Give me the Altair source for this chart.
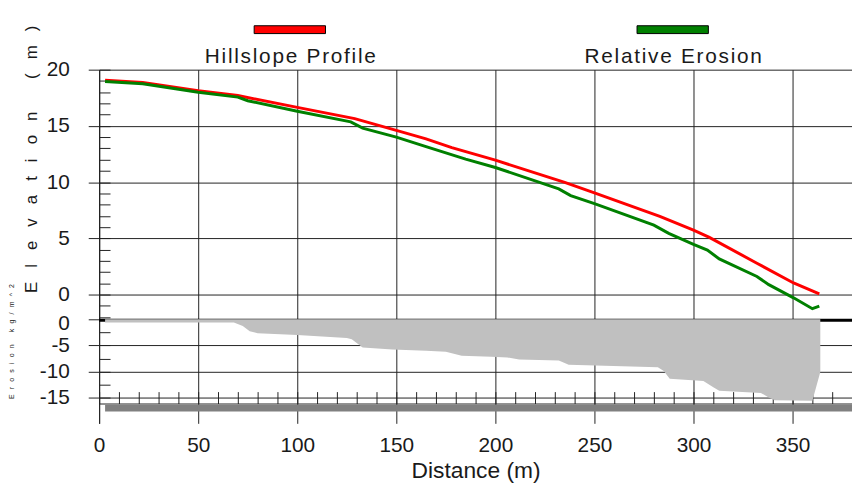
import altair as alt
import pandas as pd

# ---------------- data ----------------
series_names = ["Hillslope Profile", "Relative Erosion"]
series_colors = ["#ff0000", "#008000"]

# Hillslope profile (red line), distance (m) / elevation (m)
prof_x = [3, 22, 50, 70, 100, 129, 150, 165, 178, 200, 235, 250, 283, 300, 308, 332, 350.5, 363.5]
prof_elev = [19.06, 18.85, 18.12, 17.7, 16.65, 15.65, 14.6, 13.85, 13.07, 11.95, 9.98, 9.05, 6.96, 5.73,
             5.08, 2.79, 1.03, 0.06]

# Relative erosion profile (green line)
eros_x = [3, 22, 50, 70, 75, 100, 127, 133, 150, 165, 185, 200, 232, 238, 250, 280, 287.5, 300, 307,
          313, 332, 338, 350.5, 360, 363.5]
eros_elev = [18.95, 18.74, 18.0, 17.56, 17.24, 16.3, 15.36, 14.8, 14.0, 13.15, 12.04, 11.3, 9.4, 8.8,
             8.08, 6.17, 5.44, 4.47, 3.96, 3.17, 1.61, 0.88, -0.29, -1.26, -1.03]

# Soil loss along the slope (kg/m^2)
loss_x = [3, 68, 72.5, 76, 80, 100, 125, 127.5, 133, 148, 165, 175, 183, 198, 206, 212, 232, 237, 282,
          285, 288, 305, 310, 313, 334, 338, 341, 360, 364]
loss_val = [-0.63, -0.63, -1.3, -2.3, -2.66, -3.0, -3.6, -3.8, -5.4, -5.8, -6.0, -6.2, -7.0, -7.15,
            -7.3, -7.7, -7.9, -8.7, -9.2, -9.9, -11.4, -11.8, -13.0, -13.7, -14.1, -15.0, -15.5, -15.6,
            -10.1]

# strip under the erosion panel
strip_x = [3, 380]
strip_y = [-16.35, -17.65]

zero_line = [0]

# tick values
x_ticks = [0, 50, 100, 150, 200, 250, 300, 350]
x_minor = list(range(0, 380, 10))
elev_ticks = [0, 5, 10, 15, 20]
elev_minor = list(range(-2, 21))
loss_ticks = [0, -5, -10, -15]
loss_minor = [0, -2.5, -5, -7.5, -10, -12.5, -15]

# ---------------- styling ----------------
FONT = "'Liberation Sans Narrow', 'Arial Narrow', 'Liberation Sans', sans-serif"
TXT = "#1a1a1a"
LINE = "#222222"
HAIR = "\u200a"
WIDE = "\u2002\u2004"   # en + three-per-em space
MID = "\u2002\u2005"    # en + four-per-em space
plain_value = "toString(datum.value)"
spaced_label = "join(split(datum.label, ''), '" + HAIR + "')"

x_scale = alt.Scale(domain=[0, 380], nice=False, zero=False)
top_scale = alt.Scale(domain=[-2.2, 20], range=[252, 0], nice=False, zero=False)
# erosion panel: 0 at 252 px, 5.267 px per unit, range covering the whole plot height
bot_scale = alt.Scale(domain=[-19.93, 47.85], range=[357, 0], nice=False, zero=False)

main_x_axis = alt.Axis(
    orient="bottom", values=x_ticks, grid=True, gridColor=LINE, gridWidth=1,
    ticks=False, tickSize=0, domain=False, labelExpr=plain_value, labelFont=FONT,
    labelFontSize=21, labelColor=TXT, labelPadding=11.5, labelFlush=False, labelOverlap=False,
    title="Distance (m)", titleFont=FONT, titleFontSize=23, titleFontWeight="normal",
    titleColor=TXT, titleBaseline="alphabetic", titleY=55, zindex=0,
)
tick_x_axis = alt.Axis(
    orient="top", offset=-337, values=x_minor, tickSize=12, tickColor=LINE, tickWidth=1,
    domain=True, domainColor=LINE, domainWidth=1, labels=False, grid=False, title=None, zindex=0,
)
top_major = alt.Axis(
    orient="left", values=elev_ticks, grid=True, gridColor=LINE, gridWidth=1,
    tickSize=11, tickColor=LINE, domain=True, domainColor=LINE, labelExpr=plain_value,
    labelFont=FONT, labelFontSize=21, labelColor=TXT, labelPadding=19, labelOverlap=False,
    labelFlush=False, title=WIDE.join("Elevation (m)"), titleFont=FONT, titleFontSize=17,
    titleFontWeight="normal", titleColor=TXT, titleAngle=270, titleAlign="left",
    titleBaseline="alphabetic", titleX=-63, titleY=225, zindex=0,
)
top_minor = alt.Axis(
    orient="left", offset=-11, values=elev_minor, tickSize=11, tickColor=LINE,
    domain=False, labels=False, grid=False, title=None, zindex=0,
)
bot_major = alt.Axis(
    orient="left", values=loss_ticks, grid=True, gridColor=LINE, gridWidth=1,
    tickSize=11, tickColor=LINE, domain=True, domainColor=LINE, labelExpr=plain_value,
    labelFont=FONT, labelFontSize=21, labelColor=TXT, labelPadding=19, labelOverlap=False,
    labelFlush=False,
    labelOffset={"condition": {"test": "datum.value === 0", "value": 4}, "value": 0},
    title=MID.join("Erosion kg/m^2"), titleFont=FONT, titleFontSize=7, titleFontWeight="normal",
    titleColor=TXT, titleAngle=270, titleAlign="left", titleBaseline="alphabetic",
    titleX=-86, titleY=332, zindex=0,
)
bot_minor = alt.Axis(
    orient="left", offset=-11, values=loss_minor, tickSize=11, tickColor=LINE,
    domain=False, labels=False, grid=False, title=None, zindex=0,
)


def legend_for(lx):
    # the swatch is drawn to the right half of the symbol box so that the
    # label (which starts at the box's right edge) is centred below it
    return alt.Legend(
        orient="none", legendX=lx, legendY=-48.8, title=None, padding=0,
        symbolType="M0,-0.89H2V-0.67H0Z", symbolSize=5184,
        symbolStrokeColor="#000000", symbolStrokeWidth=1, symbolOpacity=1,
        labelFont=FONT, labelFontSize=21, labelColor=TXT, labelAlign="center",
        labelBaseline="middle", labelOffset=0, labelLimit=600, labelExpr=spaced_label,
    )


prof_df = pd.DataFrame({"x": prof_x, "elev": prof_elev, "series": series_names[0]})
eros_df = pd.DataFrame({"x": eros_x, "elev": eros_elev, "series": series_names[1]})
loss_df = pd.DataFrame({"x": loss_x, "loss": loss_val})
strip_df = pd.DataFrame({"x0": [strip_x[0]], "x1": [strip_x[1]], "y0": [strip_y[0]], "y1": [strip_y[1]]})
zero_df = pd.DataFrame({"v": zero_line})

strip = alt.Chart(strip_df).mark_rect(color="#808080").encode(
    x=alt.X("x0:Q", scale=x_scale, axis=None),
    x2="x1:Q",
    y=alt.Y("y0:Q", scale=bot_scale, axis=None),
    y2="y1:Q",
)

zero = alt.Chart(zero_df).mark_rule(color="#000000", strokeWidth=3, yOffset=1).encode(
    y=alt.Y("v:Q", scale=bot_scale, axis=bot_minor),
)

area = alt.Chart(loss_df).mark_area(color="#c0c0c0", opacity=1, interpolate="linear").encode(
    x=alt.X("x:Q", scale=x_scale, axis=main_x_axis),
    y=alt.Y("loss:Q", scale=bot_scale, axis=bot_major),
    y2=alt.Y2Datum(0),
)

red = alt.Chart(prof_df).mark_line(strokeWidth=3, interpolate="linear", color=series_colors[0]).encode(
    x=alt.X("x:Q", scale=x_scale, axis=None),
    y=alt.Y("elev:Q", scale=top_scale, axis=top_major),
)

green = alt.Chart(eros_df).mark_line(strokeWidth=3, interpolate="linear", color=series_colors[1]).encode(
    x=alt.X("x:Q", scale=x_scale, axis=tick_x_axis),
    y=alt.Y("elev:Q", scale=top_scale, axis=top_minor),
)


def legend_layer(df, i, lx):
    return alt.Chart(df).mark_point(filled=True, opacity=0).encode(
        x=alt.X("x:Q", scale=x_scale, axis=None),
        y=alt.Y("elev:Q", scale=top_scale, axis=None),
        fill=alt.Fill("series:N", scale=alt.Scale(domain=[series_names[i]], range=[series_colors[i]]),
                      legend=legend_for(lx)),
    )


leg_red = legend_layer(prof_df, 0, 120)
leg_green = legend_layer(eros_df, 1, 506.5)

chart = (
    alt.layer(strip, zero, area, red, green, leg_red, leg_green)
    .resolve_scale(y="independent", fill="independent")
    .resolve_axis(x="independent", y="independent")
    .resolve_legend(fill="independent")
    .properties(
        width=760, height=357,
        autosize=alt.AutoSizeParams(type="none"),
        padding={"left": 92, "top": 60, "right": 0, "bottom": 59},
        background="white",
    )
    .configure_view(strokeWidth=0)
)

chart.save("out.html", embed_options={"renderer": "svg", "actions": False})
